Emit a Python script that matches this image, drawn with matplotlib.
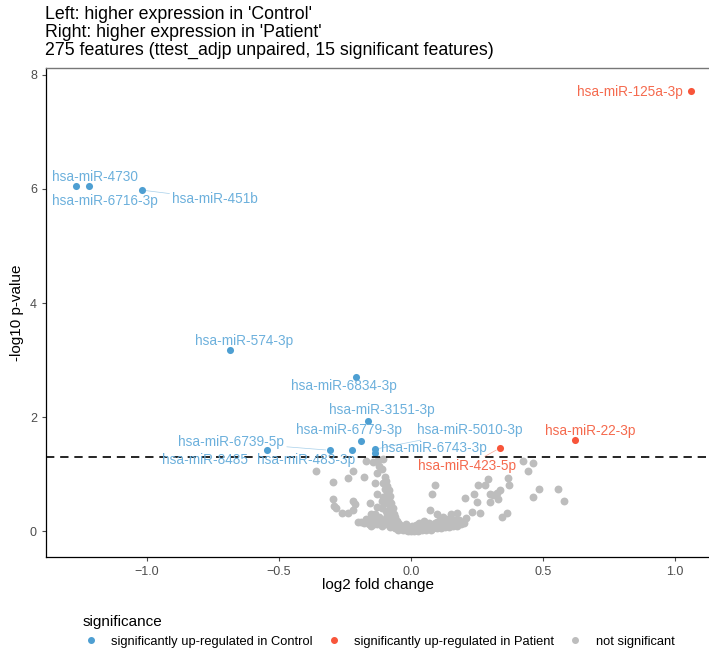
import matplotlib
matplotlib.use("Agg")
import matplotlib.pyplot as plt
from matplotlib.lines import Line2D

plt.rcParams['font.family'] = ['Liberation Sans', 'DejaVu Sans']

# significant features: up-regulated in Control (blue)
ctrl_names = ['hsa-miR-4730', 'hsa-miR-6716-3p', 'hsa-miR-451b', 'hsa-miR-574-3p',
              'hsa-miR-6834-3p', 'hsa-miR-3151-3p', 'hsa-miR-6779-3p', 'hsa-miR-5010-3p',
              'hsa-miR-6743-3p', 'hsa-miR-6739-5p', 'hsa-miR-8485', 'hsa-miR-483-3p']
ctrl_fc = [-1.27, -1.22, -1.02, -0.686, -0.21, -0.163, -0.19, -0.136, -0.136, -0.307, -0.545, -0.223]
ctrl_p = [6.06, 6.06, 5.98, 3.18, 2.70, 1.93, 1.58, 1.44, 1.37, 1.42, 1.42, 1.42]

# significant features: up-regulated in Patient (red)
pat_names = ['hsa-miR-125a-3p', 'hsa-miR-22-3p', 'hsa-miR-423-5p']
pat_fc = [1.06, 0.62, 0.337]
pat_p = [7.72, 1.60, 1.46]

# not significant (grey)
ns_fc = [-0.36, -0.295, -0.24, -0.22, -0.18, -0.17, -0.144, -0.11, -0.13, -0.105, -0.10, -0.09,
         -0.136, -0.13, -0.295, -0.29, -0.285, -0.22, -0.212, -0.22, -0.26, -0.24, -0.155, -0.15,
         -0.136, -0.2, -0.19, -0.167, -0.13, -0.11, -0.105, -0.12, -0.125, -0.105,
         -0.10, -0.095, -0.09, -0.085, -0.08, -0.085, -0.075, -0.08, -0.07, -0.075, -0.065, -0.06,
         -0.07, -0.055, -0.05, -0.045, -0.04, -0.1, -0.11, -0.095, -0.12, -0.1, -0.09, -0.14,
         -0.16, -0.13, -0.11, -0.09, -0.08, -0.07, -0.06, -0.12, -0.15,
         -0.035, -0.03, -0.02, -0.015, -0.01, 0.0, 0.005, 0.01, 0.02, 0.025, 0.03, 0.04, 0.05,
         0.055, 0.06, 0.07, 0.08, 0.09, 0.1, 0.11, 0.12, 0.13, 0.14, 0.15, 0.16, 0.17, 0.18, 0.19,
         0.2, -0.05, -0.045, 0.015, 0.035, 0.065, 0.09, 0.11, 0.125, 0.14, 0.05, 0.03, 0.005,
         -0.02, -0.03,
         -0.18, -0.17, -0.155, -0.14, -0.125, -0.115, -0.1, -0.085, -0.075, -0.065, -0.055,
         -0.045, -0.035, -0.025, -0.01, 0.0, 0.015, 0.03, 0.045, 0.06, 0.075, 0.085, 0.1, 0.115,
         0.13, 0.145, 0.16, 0.175, 0.19, -0.17, -0.15, -0.13, -0.1, -0.08, -0.06, 0.02, 0.04,
         0.07, 0.1, 0.135, 0.165,
         0.09, 0.08, 0.072, 0.174, 0.21, 0.205, 0.24, 0.254, 0.28, 0.29, 0.25, 0.23, 0.26, 0.30,
         0.31, 0.325, 0.337, 0.30, 0.33, 0.344, 0.364, 0.367, 0.371, 0.424, 0.462, 0.443, 0.462,
         0.485, 0.557, 0.58, 0.15, 0.1, 0.12]
ns_p = [1.05, 0.86, 0.93, 1.05, 0.95, 1.23, 1.21, 1.09, 1.02, 0.84, 0.75, 0.68,
        0.84, 0.66, 0.56, 0.45, 0.40, 0.54, 0.48, 0.38, 0.32, 0.32, 0.49, 0.30,
        0.30, 0.16, 0.16, 0.16, 0.42, 0.54, 0.60, 1.15, 1.25, 1.27,
        0.95, 0.88, 0.80, 0.72, 0.62, 0.55, 0.50, 0.45, 0.40, 0.35, 0.30, 0.25,
        0.22, 0.18, 0.14, 0.10, 0.07, 0.5, 0.4, 0.35, 0.25, 0.22, 0.28, 0.2,
        0.12, 0.12, 0.1, 0.12, 0.08, 0.1, 0.06, 0.15, 0.09,
        0.04, 0.03, 0.02, 0.05, 0.01, 0.0, 0.02, 0.01, 0.03, 0.0, 0.05, 0.02, 0.06,
        0.03, 0.08, 0.05, 0.1, 0.07, 0.12, 0.09, 0.14, 0.1, 0.16, 0.12, 0.18, 0.14, 0.2, 0.16,
        0.15, 0.02, 0.12, 0.07, 0.1, 0.12, 0.15, 0.2, 0.22, 0.22, 0.18, 0.15, 0.1,
        0.12, 0.08,
        0.14, 0.18, 0.15, 0.13, 0.17, 0.14, 0.16, 0.17, 0.14, 0.13, 0.1, 0.07, 0.09, 0.06,
        0.04, 0.06, 0.04, 0.02, 0.04, 0.05, 0.03, 0.06, 0.05, 0.06, 0.07, 0.08, 0.09, 0.1, 0.12,
        0.22, 0.24, 0.2, 0.18, 0.2, 0.17, 0.11, 0.13, 0.15, 0.17, 0.18, 0.2,
        0.81, 0.66, 0.37, 0.32, 0.23, 0.58, 0.66, 0.82, 0.82, 0.91, 0.51, 0.33, 0.32, 0.66,
        0.63, 0.68, 0.72, 0.51, 0.56, 0.25, 0.32, 0.93, 0.81, 1.23, 1.19, 1.05, 0.60,
        0.75, 0.74, 0.53, 0.3, 0.3, 0.25]

threshold = 1.301  # -log10(0.05)

# label placement (data coords) and whether a connector segment is drawn
label_pos = {
    'hsa-miR-4730': (-1.197, 6.21, False),
    'hsa-miR-6716-3p': (-1.159, 5.79, False),
    'hsa-miR-451b': (-0.742, 5.82, True),
    'hsa-miR-574-3p': (-0.633, 3.33, False),
    'hsa-miR-6834-3p': (-0.254, 2.54, False),
    'hsa-miR-3151-3p': (-0.110, 2.12, False),
    'hsa-miR-6779-3p': (-0.235, 1.77, False),
    'hsa-miR-5010-3p': (0.223, 1.77, True),
    'hsa-miR-6743-3p': (0.087, 1.46, False),
    'hsa-miR-6739-5p': (-0.682, 1.56, True),
    'hsa-miR-8485': (-0.780, 1.25, False),
    'hsa-miR-483-3p': (-0.398, 1.25, False),
    'hsa-miR-125a-3p': (0.830, 7.70, False),
    'hsa-miR-22-3p': (0.678, 1.75, False),
    'hsa-miR-423-5p': (0.212, 1.14, True),
}

blue = '#4e9fd2'
blue_txt = '#6cb0dc'
red = '#f8553a'
red_txt = '#f56a4e'
grey = '#bdbdbd'

fig = plt.figure(figsize=(7.09, 6.53), dpi=100)
ax = fig.add_axes([46 / 709, 1 - 557 / 653, 663 / 709, (557 - 68) / 653])

ax.scatter(ns_fc, ns_p, s=32, color=grey, linewidths=0, zorder=2)
ax.scatter(ctrl_fc, ctrl_p, s=26, color=blue, linewidths=0, zorder=3)
ax.scatter(pat_fc, pat_p, s=26, color=red, linewidths=0, zorder=3)

ax.axhline(threshold, color='black', lw=1.2, linestyle=(0, (5, 3.5)), zorder=4)

for names, xs, ys, col in [(ctrl_names, ctrl_fc, ctrl_p, blue_txt),
                           (pat_names, pat_fc, pat_p, red_txt)]:
    for name, x, y in zip(names, xs, ys):
        tx, ty, seg = label_pos[name]
        props = dict(arrowstyle='-', color=col, lw=0.5, alpha=0.6, shrinkA=0, shrinkB=3) if seg else None
        ax.annotate(name, xy=(x, y), xytext=(tx, ty), textcoords='data',
                    ha='center', va='center', fontsize=9.8, color=col,
                    arrowprops=props, zorder=5)

ax.set_xlim(-1.383, 1.129)
ax.set_ylim(-0.45, 8.12)
ax.set_xticks([-1.0, -0.5, 0.0, 0.5, 1.0])
ax.set_yticks([0, 2, 4, 6, 8])
ax.tick_params(colors='#4d4d4d', labelsize=9, length=3, width=0.8, labelcolor='#4d4d4d')
for side in ['left', 'bottom']:
    ax.spines[side].set_color('black')
    ax.spines[side].set_linewidth(0.9)
ax.spines['right'].set_visible(False)
ax.spines['top'].set_color('#777777')
ax.spines['top'].set_linewidth(1.0)

ax.set_xlabel('log2 fold change', fontsize=11, labelpad=0)
ax.set_ylabel('-log10 p-value', fontsize=11, labelpad=4)

title_lines = ["Left: higher expression in 'Control'",
               "Right: higher expression in 'Patient'",
               "275 features (ttest_adjp unpaired, 15 significant features)"]
for i, line in enumerate(title_lines):
    fig.text(45 / 709, 1 - (14.5 + 18.2 * i) / 653, line,
             ha='left', va='center', fontsize=12.8)

handles = [Line2D([], [], marker='o', ls='', color=blue, markersize=4),
           Line2D([], [], marker='o', ls='', color=red, markersize=4),
           Line2D([], [], marker='o', ls='', color=grey, markersize=4)]
labels = ['significantly up-regulated in Control', 'significantly up-regulated in Patient',
          'not significant']
fig.legend(handles, labels, loc='upper left', bbox_to_anchor=(74 / 709, 1 - 606 / 653),
           ncol=3, frameon=False, title='significance', alignment='left',
           fontsize=9.3, title_fontsize=11, handletextpad=1.0, columnspacing=1.0,
           borderpad=0.2, handlelength=1.2)

fig.savefig('out.png', dpi=100)
